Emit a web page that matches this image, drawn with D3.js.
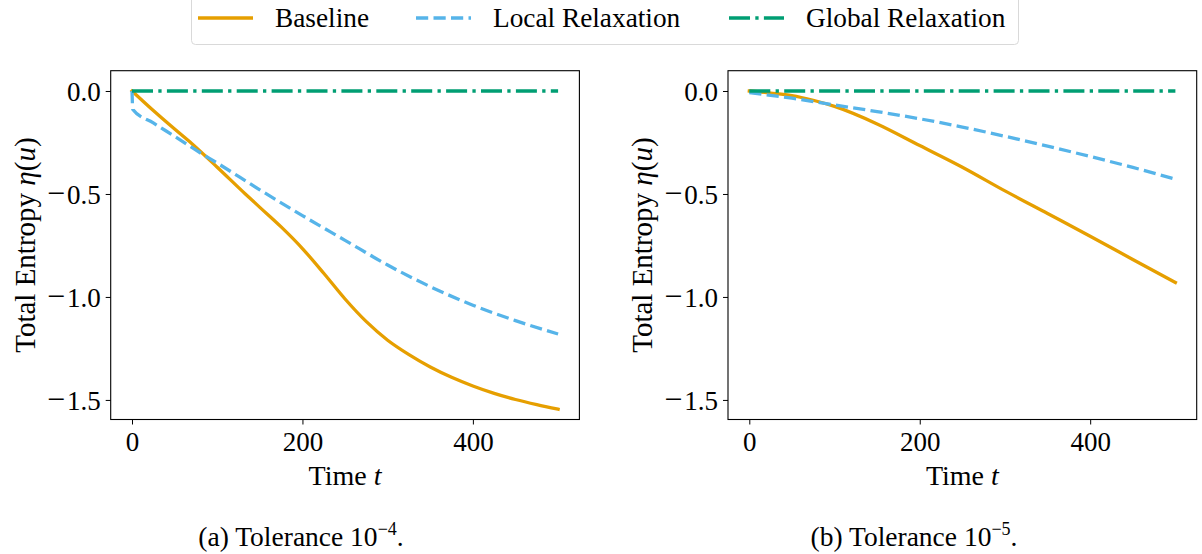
<!DOCTYPE html>
<html>
<head>
<meta charset="utf-8">
<script src="https://cdn.jsdelivr.net/npm/d3@7"></script>
<style>
  html, body { margin: 0; padding: 0; background: #fff; }
  svg { display: block; }
  text { font-family: "Liberation Serif", "DejaVu Serif", serif; fill: #000; }
</style>
</head>
<body>
<svg id="chart" width="1202" height="554"></svg>
<script>
// ---------- data ----------
const seriesNames = ["Baseline", "Local Relaxation", "Global Relaxation"];
const seriesColors = ["#E69F00", "#56B4E9", "#009E73"];

// Panel (a): tolerance 1e-4
const aBaselineT = [0, 25, 50, 70, 100, 133, 150, 175, 200, 225, 250, 275, 300, 325, 350, 375, 400, 425, 450, 475, 500];
const aBaselineV = [0, -0.095, -0.185, -0.255, -0.37, -0.50, -0.565, -0.66, -0.765, -0.885, -1.01, -1.12, -1.21, -1.28, -1.340, -1.390, -1.432, -1.468, -1.498, -1.523, -1.545];
const aLocalT = [0, 1, 25, 50, 80, 100, 150, 200, 250, 300, 350, 400, 450, 500];
const aLocalV = [0, -0.09, -0.155, -0.22, -0.30, -0.35, -0.48, -0.605, -0.725, -0.845, -0.95, -1.04, -1.115, -1.18];
const aGlobalT = [0, 500];
const aGlobalV = [0, 0];

// Panel (b): tolerance 1e-5
const bBaselineT = [0, 25, 50, 75, 100, 150, 200, 250, 300, 350, 400, 450, 500];
const bBaselineV = [0, -0.01, -0.022, -0.045, -0.075, -0.16, -0.265, -0.37, -0.485, -0.595, -0.705, -0.818, -0.93];
const bLocalT = [0, 50, 100, 150, 200, 250, 300, 350, 400, 450, 500];
const bLocalV = [-0.008, -0.035, -0.068, -0.10, -0.135, -0.175, -0.22, -0.268, -0.318, -0.371, -0.428];
const bGlobalT = [0, 500];
const bGlobalV = [0, 0];

const xTicks = [0, 200, 400];
const yTicks = [0, -0.5, -1.0, -1.5];
const xDomain = [-25, 525];
const yDomain = [-1.595, 0.0985];

const captions = [["(a) Tolerance 10", "\u22124", "."], ["(b) Tolerance 10", "\u22125", "."]];

// ---------- layout ----------
const svg = d3.select("#chart");
const FS = 27;
const panels = [
  { left: 110.7, right: 579.4, captionX: 301, labelX: 35,
    series: [[aBaselineT, aBaselineV], [aLocalT, aLocalV], [aGlobalT, aGlobalV]], caption: captions[0] },
  { left: 728, right: 1196.7, captionX: 914, labelX: 652,
    series: [[bBaselineT, bBaselineV], [bLocalT, bLocalV], [bGlobalT, bGlobalV]], caption: captions[1] }
];
const plotTop = 70.7, plotBottom = 419.5;
const dashes = [null, "12.2,5.3", "21,5.3,3.3,5.3"];
const lw = 3.3;

const fmtY = d => (d === 0 ? "0.0" : d3.format(".1f")(Math.abs(d)));

panels.forEach(p => {
  const x = d3.scaleLinear().domain(xDomain).range([p.left, p.right]);
  const y = d3.scaleLinear().domain(yDomain).range([plotBottom, plotTop]);
  const g = svg.append("g");

  const cid = "clip" + Math.round(p.left);
  svg.append("clipPath").attr("id", cid).append("rect")
    .attr("x", p.left).attr("y", plotTop).attr("width", p.right - p.left).attr("height", plotBottom - plotTop);

  p.series.forEach((s, i) => {
    const pts = s[0].map((t, k) => [t, s[1][k]]);
    const line = d3.line().x(d => x(d[0])).y(d => y(d[1]))
      .curve(i === 2 ? d3.curveLinear : d3.curveMonotoneX);
    g.append("path").datum(pts)
      .attr("clip-path", `url(#${cid})`)
      .attr("d", line)
      .attr("fill", "none")
      .attr("stroke", seriesColors[i])
      .attr("stroke-width", lw)
      .attr("stroke-linejoin", "round")
      .attr("stroke-linecap", i === 0 ? "square" : "butt")
      .attr("stroke-dasharray", dashes[i]);
  });

  g.append("rect").attr("x", p.left).attr("y", plotTop)
    .attr("width", p.right - p.left).attr("height", plotBottom - plotTop)
    .attr("fill", "none").attr("stroke", "#000").attr("stroke-width", 1.1);

  const xa = g.append("g").attr("transform", `translate(0,${plotBottom})`)
    .call(d3.axisBottom(x).tickValues(xTicks).tickSize(5).tickPadding(8).tickFormat(d3.format("d")));
  xa.select(".domain").remove();
  xa.selectAll("line").attr("stroke", "#000").attr("stroke-width", 1);
  xa.selectAll("text").attr("font-size", FS).attr("font-family", "Liberation Serif").attr("fill", "#000").attr("dy", "0").attr("y", 31.5);

  const ya = g.append("g").attr("transform", `translate(${p.left},0)`)
    .call(d3.axisLeft(y).tickValues(yTicks).tickSize(5).tickPadding(5).tickFormat(fmtY));
  ya.select(".domain").remove();
  ya.selectAll("line").attr("stroke", "#000").attr("stroke-width", 1);
  ya.selectAll(".tick text").each(function(d) {
    const t = d3.select(this);
    const body = t.text();
    t.text(null).attr("font-size", FS).attr("font-family", "Liberation Serif").attr("fill", "#000")
      .attr("dy", "0.34em").attr("x", -10);
    if (d < 0) {
      t.append("tspan").attr("font-size", 32).text("\u2212");
      t.append("tspan").attr("dx", 2).text(body);
    } else {
      t.append("tspan").text(body);
    }
  });

  const xl = g.append("text").attr("x", (p.left + p.right) / 2).attr("y", 485)
    .attr("text-anchor", "middle").attr("font-size", 28);
  xl.append("tspan").text("Time ");
  xl.append("tspan").attr("font-style", "italic").text("t");

  const yl = g.append("text")
    .attr("transform", `translate(${p.labelX},${(plotTop + plotBottom) / 2}) rotate(-90)`)
    .attr("text-anchor", "middle").attr("font-size", 29);
  yl.append("tspan").text("Total Entropy ");
  yl.append("tspan").attr("font-style", "italic").text("\u03B7");
  yl.append("tspan").text("(");
  yl.append("tspan").attr("font-style", "italic").text("u");
  yl.append("tspan").text(")");

  const cap = g.append("text").attr("x", p.captionX).attr("y", 546)
    .attr("text-anchor", "middle").attr("font-size", 27.5);
  cap.append("tspan").text(p.caption[0]);
  cap.append("tspan").attr("font-size", 18).attr("dy", -11).text(p.caption[1]);
  cap.append("tspan").attr("dy", 11).text(p.caption[2]);
});

// ---------- legend ----------
const legend = svg.append("g");
legend.append("rect").attr("x", 191.5).attr("y", -8).attr("width", 827).attr("height", 52.5)
  .attr("rx", 4).attr("fill", "#fff").attr("stroke", "#d9d9d9").attr("stroke-width", 1);
const legendTextX = [275, 493, 806];
seriesNames.forEach((name, i) => {
  const tx = legendTextX[i];
  legend.append("line").attr("x1", tx - 77).attr("x2", tx - 22).attr("y1", 18).attr("y2", 18)
    .attr("stroke", seriesColors[i]).attr("stroke-width", lw)
    .attr("stroke-dasharray", dashes[i]);
  legend.append("text").attr("x", tx).attr("y", 27).attr("font-size", 27.3).text(name);
});
</script>
</body>
</html>
